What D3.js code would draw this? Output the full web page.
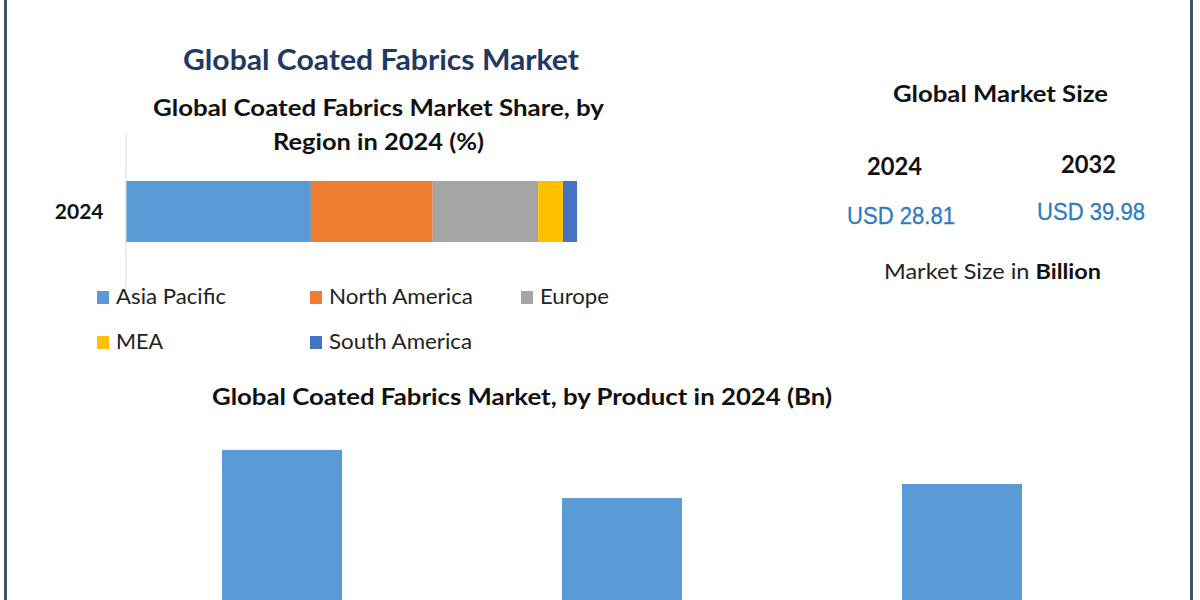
<!DOCTYPE html>
<html>
<head>
<meta charset="utf-8">
<script src="https://cdn.jsdelivr.net/npm/d3@7"></script>
<style>
  html, body { margin: 0; padding: 0; background: #ffffff; }
  svg { display: block; }
  text { font-family: Lato, "Open Sans", "Noto Sans", sans-serif; }
</style>
</head>
<body>
<svg id="chart" width="1200" height="600"></svg>
<script>
// ---------- data ----------
const regionYear = ["2024"];
const regions = ["Asia Pacific", "North America", "Europe", "MEA", "South America"];
const regionShare = [41.0, 27.0, 23.4, 5.5, 3.1];          // % share, 2024
const regionColors = ["#5b9bd5", "#ed7d31", "#a5a5a5", "#ffc000", "#4472c4"];

const marketYears = ["2024", "2032"];
const marketValues = ["USD 28.81", "USD 39.98"];            // Billion

const products = ["Polymer Coated Fabrics", "Rubber Coated Fabrics", "Fabric-backed Wallcoverings"];
const productValues = [11.22, 8.38, 9.21];                   // Bn, 2024

// ---------- drawing ----------
const svg = d3.select("#chart");

// frame side borders
svg.append("line").attr("x1", 5.5).attr("x2", 5.5).attr("y1", 0).attr("y2", 600)
  .attr("stroke", "#3c5567").attr("stroke-width", 3);
svg.append("line").attr("x1", 1191.5).attr("x2", 1191.5).attr("y1", 0).attr("y2", 600)
  .attr("stroke", "#3c5567").attr("stroke-width", 3);

function fitText(sel, x, y, w, size, weight, fill, txt) {
  return sel.append("text").attr("x", x).attr("y", y)
    .attr("font-size", size).attr("font-weight", weight).attr("fill", fill)
    .attr("textLength", w).attr("lengthAdjust", "spacingAndGlyphs")
    .text(txt);
}

// titles
fitText(svg, 183, 70, 396, 28, 700, "#1f3864", "Global Coated Fabrics Market");
fitText(svg, 153, 116, 451, 23, 700, "#111111", "Global Coated Fabrics Market Share, by");
fitText(svg, 273, 150, 211, 23, 700, "#111111", "Region in 2024 (%)");

// ---------- stacked 100% bar ----------
const x = d3.scaleLinear().domain([0, 100]).range([126, 577]);
const y = d3.scaleBand().domain(regionYear).range([133, 290]).paddingInner(0.4404).paddingOuter(0.4404);

let cum = 0;
const segs = regions.map((r, i) => {
  const s = { region: r, x0: cum, x1: cum + regionShare[i], color: regionColors[i] };
  cum += regionShare[i];
  return s;
});

svg.append("g").selectAll("rect").data(segs).join("rect")
  .attr("x", d => x(d.x0))
  .attr("width", d => x(d.x1) - x(d.x0))
  .attr("y", y("2024"))
  .attr("height", y.bandwidth())
  .attr("fill", d => d.color);

const yAxis = svg.append("g").attr("transform", "translate(125.5,0)")
  .call(d3.axisLeft(y).tickSize(0).tickPadding(22));
yAxis.select(".domain").attr("stroke", "#d9d9d9").attr("stroke-width", 1);
yAxis.selectAll("text")
  .attr("font-size", 21).attr("font-weight", 700).attr("fill", "#111111")
  .attr("dy", "0.35em");

// legend
const legendPos = [
  { x: 97, y: 304, w: 110 }, { x: 310, y: 304, w: 144 }, { x: 521, y: 304, w: 69 },
  { x: 97, y: 349, w: 47 }, { x: 310, y: 349, w: 143 }
];
const leg = svg.append("g").selectAll("g").data(regions).join("g");
leg.append("rect")
  .attr("x", (d, i) => legendPos[i].x)
  .attr("y", (d, i) => legendPos[i].y - 13)
  .attr("width", 12).attr("height", 13)
  .attr("fill", (d, i) => regionColors[i]);
leg.append("text")
  .attr("x", (d, i) => legendPos[i].x + 19)
  .attr("y", (d, i) => legendPos[i].y)
  .attr("font-size", 21).attr("fill", "#222222")
  .attr("textLength", (d, i) => legendPos[i].w)
  .attr("lengthAdjust", "spacingAndGlyphs")
  .text(d => d);

// ---------- market size panel ----------
fitText(svg, 893, 102, 215, 23, 700, "#111111", "Global Market Size");
const yearPos = [{ x: 867, y: 175 }, { x: 1061, y: 173 }];
const valPos = [{ x: 847, y: 224 }, { x: 1037, y: 220 }];
marketYears.forEach((yr, i) => {
  fitText(svg, yearPos[i].x, yearPos[i].y, 55, 24, 700, "#111111", yr);
  svg.append("text").attr("x", valPos[i].x).attr("y", valPos[i].y)
    .style("font-family", "'Liberation Sans', Arial, sans-serif")
    .attr("font-size", 24).attr("fill", "#2e7cbf")
    .attr("stroke", "#2e7cbf").attr("stroke-width", 0.3)
    .attr("textLength", 108).attr("lengthAdjust", "spacingAndGlyphs")
    .text(marketValues[i]);
});
const msz = svg.append("text").attr("x", 884).attr("y", 279)
  .attr("font-size", 21).attr("fill", "#222222")
  .attr("textLength", 217).attr("lengthAdjust", "spacingAndGlyphs");
msz.append("tspan").text("Market Size in ");
msz.append("tspan").attr("font-weight", 700).attr("fill", "#111111").text("Billion");

// ---------- product bar chart ----------
fitText(svg, 212, 405, 620, 22, 700, "#111111", "Global Coated Fabrics Market, by Product in 2024 (Bn)");

const xb = d3.scaleBand().domain(products).range([52, 1192]).paddingInner(0.647).paddingOuter(0.5);
const yb = d3.scaleLinear().domain([0, 14]).range([640, 640 - 14 * 16.94]);

// bars extend past the bottom edge (cropped in the original)
svg.append("g").selectAll("rect").data(products).join("rect")
  .attr("x", d => xb(d))
  .attr("width", xb.bandwidth())
  .attr("y", (d, i) => yb(productValues[i]))
  .attr("height", (d, i) => yb(0) - yb(productValues[i]))
  .attr("fill", "#5b9bd5");
</script>
</body>
</html>
